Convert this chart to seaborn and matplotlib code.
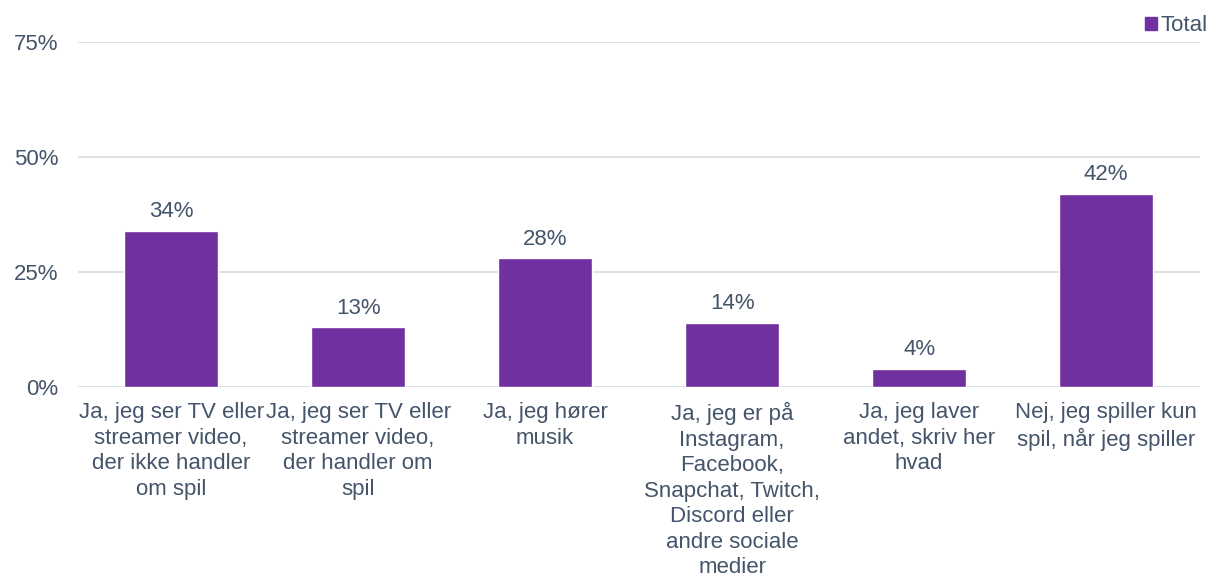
import matplotlib
matplotlib.use("Agg")
import matplotlib.pyplot as plt
import seaborn as sns
import pandas as pd
from matplotlib.patches import Patch

categories = [
    "Ja, jeg ser TV eller\nstreamer video,\nder ikke handler\nom spil",
    "Ja, jeg ser TV eller\nstreamer video,\nder handler om\nspil",
    "Ja, jeg hører\nmusik",
    "Ja, jeg er på\nInstagram,\nFacebook,\nSnapchat, Twitch,\nDiscord eller\nandre sociale\nmedier",
    "Ja, jeg laver\nandet, skriv her\nhvad",
    "Nej, jeg spiller kun\nspil, når jeg spiller",
]
values = [34, 13, 28, 14, 4, 42]
yticks = [0, 25, 50, 75]
series_name = "Total"

BAR = "#7030A0"
TXT = "#44546A"
GRID = "#D9D9E3"
FS = 16

sns.set_theme(style="white")
plt.rcParams["font.family"] = ["Liberation Sans", "DejaVu Sans"]

df = pd.DataFrame({"cat": categories, "val": values})

fig = plt.figure(figsize=(12.1, 5.77), dpi=100)
ax = fig.add_axes([0.0641, 0.3293, 0.9273, 0.5979])

sns.barplot(data=df, x="cat", y="val", color=BAR, width=0.5, ax=ax, saturation=1)

ax.set_ylim(0, 75)
ax.set_yticks(yticks)
ax.set_yticklabels([f"{t}%" for t in yticks], color=TXT, fontsize=FS)
ax.set_xlim(-0.5, len(categories) - 0.5)
ax.set_xlabel("")
ax.set_ylabel("")
ax.tick_params(axis="x", length=0, pad=11, labelsize=FS, labelcolor=TXT)
ax.tick_params(axis="y", length=0, pad=14)
for lbl in ax.get_xticklabels():
    lbl.set_linespacing(1.28)
    lbl.set_verticalalignment("top")

ax.grid(axis="y", color=GRID, linewidth=1.2)
ax.set_axisbelow(True)
for s in ax.spines.values():
    s.set_visible(False)

for c in ax.containers:
    ax.bar_label(c, labels=[f"{v}%" for v in values], padding=6, fontsize=FS, color=TXT)

ax.legend(handles=[Patch(color=BAR, label=series_name)], loc="upper right",
          bbox_to_anchor=(1.0068, 1.078), frameon=False, fontsize=FS,
          handlelength=0.55, handleheight=0.55, handletextpad=0.15, labelcolor=TXT,
          borderaxespad=0, borderpad=0)

fig.savefig("out.png", dpi=100)
